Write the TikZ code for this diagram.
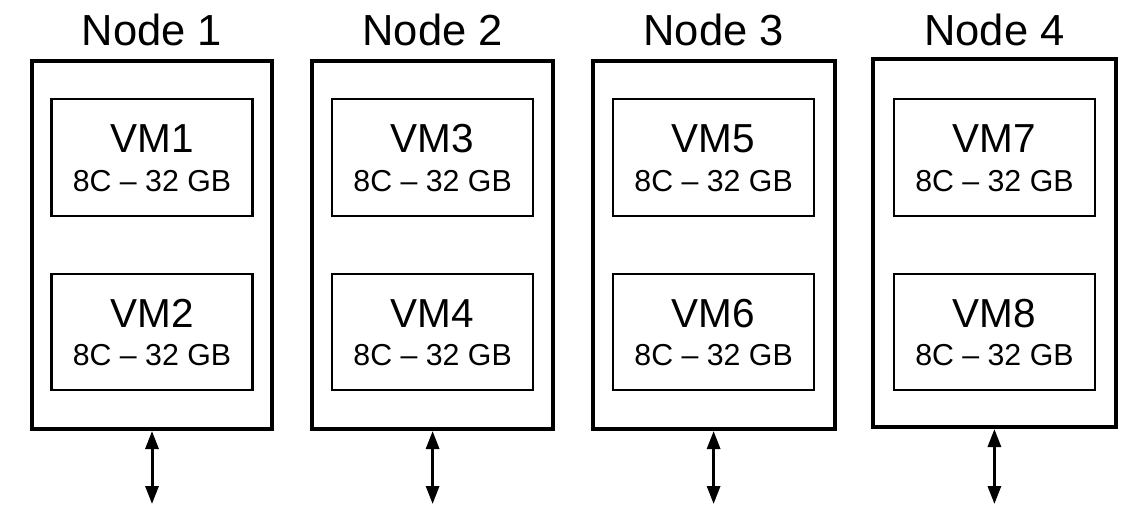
\documentclass[tikz,border=0pt]{standalone}
\usepackage{fontspec}
\setmainfont{Liberation Sans}
\usetikzlibrary{arrows.meta}
\begin{document}
\begin{tikzpicture}[x=1pt,y=-1pt,
  hostbox/.style={draw, line width=4pt, inner sep=0pt, minimum height=368pt},
  vmbox/.style={draw, line width=2.5pt, inner sep=0pt, minimum width=201pt},
  titletext/.style={anchor=base, inner sep=0pt, font=\fontsize{43.5}{50}\selectfont},
  vmtext/.style={anchor=base, inner sep=0pt, font=\fontsize{40.5}{48}\selectfont},
  spectext/.style={anchor=base, inner sep=0pt, font=\fontsize{30.3}{35}\selectfont},
  conn/.style={line width=3pt, {Triangle[length=18pt,width=13pt]}-{Triangle[length=18pt,width=13pt]}}]
\useasboundingbox (0,0) rectangle (1134,504);
\foreach \i/\cx/\w/\cy/\a/\b in {1/152/240/245/1/2, 2/432.6/241/245/3/4, 3/713.6/242/245/5/6, 4/994.4/243/243/7/8}{
  \node[hostbox, minimum width=\w pt] (n\i) at (\cx,\cy) {};
  \node[titletext] (t\i) at (\cx,45) {Node \i};
  \node[vmbox, minimum height=117pt] (vm\a) at (\cx,157.5) {};
  \node[vmtext] (vmt\a) at (\cx,152) {VM\a};
  \node[spectext] (vms\a) at (\cx,191) {8C – 32 GB};
  \node[vmbox, minimum height=116pt] (vm\b) at (\cx,332) {};
  \node[vmtext] (vmt\b) at (\cx,327) {VM\b};
  \node[spectext] (vms\b) at (\cx,365) {8C – 32 GB};
  \coordinate (e\i) at (\cx,504);
  \draw[conn] (n\i.south) -- (e\i);
}
\end{tikzpicture}
\end{document}
